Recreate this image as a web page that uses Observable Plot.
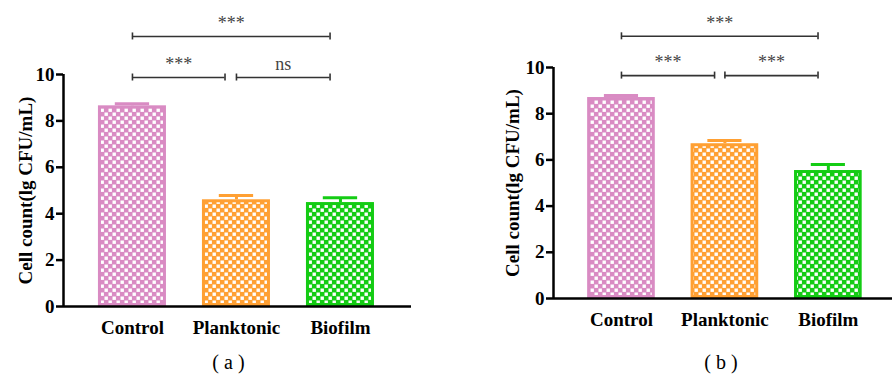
<!DOCTYPE html>
<html>
<head>
<meta charset="utf-8">
<script src="https://cdn.jsdelivr.net/npm/d3@7"></script>
<script src="https://cdn.jsdelivr.net/npm/@observablehq/plot@0.6"></script>
<style>
  body { margin: 0; font-size: 20px; font-family: "Liberation Serif"; }
  .pn { float: left; width: 446px; height: 380px; }
  .t2 text { font-family: "Liberation Serif" !important; }
</style>
</head>
<body>
<svg id="defs" width="0" height="0" style="position:absolute"></svg>
<div id="pa" class="pn t2"></div>
<div id="pb" class="pn t2"></div>
<script>
// ---- data ----
const categories = ["Control", "Planktonic", "Biofilm"];
const colors = ["#d98bc3", "#ffa033", "#14cc14"];
const yTicks = [0, 2, 4, 6, 8, 10];
const yLabel = "Cell count(lg CFU/mL)";

// panel (a)
const meanA = [8.65, 4.60, 4.48];
const errA = [0.09, 0.18, 0.21];
const bracketA_from = [0, 1, 0];
const bracketA_to = [0.89, 1.9, 1.9];
const bracketA_y = [9.87, 9.87, 11.64];
const bracketA_label = ["***", "ns", "***"];

// panel (b)
const meanB = [8.70, 6.70, 5.54];
const errB = [0.09, 0.14, 0.26];
const bracketB_from = [0, 1, 0];
const bracketB_to = [0.9, 1.9, 1.9];
const bracketB_y = [9.65, 9.65, 11.35];
const bracketB_label = ["***", "***", "***"];

const barHalf = 0.327;
const capHalf = 0.165;
const FONT = "Liberation Serif";

// checkerboard patterns (shared defs)
(function () {
  const defs = d3.select("#defs").append("defs");
  colors.forEach((c, i) => {
    const p = defs.append("pattern").attr("id", "pat" + i)
      .attr("patternUnits", "userSpaceOnUse").attr("width", 8).attr("height", 8);
    p.append("rect").attr("width", 8).attr("height", 8).attr("fill", c);
    [[0, 0], [4, 4]].forEach(([x, y]) =>
      p.append("rect").attr("x", x + 0.5).attr("y", y + 0.5).attr("width", 3.4).attr("height", 3.4).attr("fill", "white"));
  });
})();

function panel(opts) {
  const {mean, err, bFrom, bTo, bY, bLabel, caption, xDomain, marginLeft, marginRight, marginTop, marginBottom, labelDx, captionDx} = opts;
  const bars = categories.map((c, i) => ({i, name: c, v: mean[i], top: mean[i] + err[i], color: colors[i]}));
  const brackets = bFrom.map((f, k) => ({x1: f, x2: bTo[k], y: bY[k], label: bLabel[k], mid: (f + bTo[k]) / 2}));
  const ends = brackets.flatMap(b => [{x: b.x1, y: b.y}, {x: b.x2, y: b.y}]);
  return Plot.plot({
    width: 446, height: 380, marginLeft, marginRight, marginTop, marginBottom,
    style: {fontFamily: FONT},
    x: {type: "linear", domain: xDomain, axis: null},
    y: {domain: [0, 10], axis: null},
    marks: [
      Plot.rectY(bars, {x1: d => d.i - barHalf, x2: d => d.i + barHalf, y1: 0, y2: "v", fill: d => `url(#pat${d.i})`, stroke: "color", strokeWidth: 3, inset: 1.5}),
      Plot.ruleX(bars, {x: "i", y1: "v", y2: "top", stroke: "color", strokeWidth: 3}),
      Plot.ruleY(bars, {y: "top", x1: d => d.i - capHalf, x2: d => d.i + capHalf, stroke: "color", strokeWidth: 3}),
      Plot.ruleX([xDomain[0]], {y1: 0, y2: 10, stroke: "black", strokeWidth: 2.5}),
      Plot.ruleY([0], {x1: xDomain[0], x2: xDomain[1], stroke: "black", strokeWidth: 2.5}),
      Plot.axisY({ticks: yTicks, tickSize: 7, tickPadding: 2, strokeWidth: 2.5, label: null, fontSize: 19, fontWeight: "bold", fontFamily: FONT}),
      Plot.axisX({ticks: [0, 1, 2], tickFormat: i => categories[i], tickSize: 0, tickPadding: 14, label: null, fontSize: 19, fontWeight: "bold", fontFamily: FONT}),
      Plot.text([yLabel], {frameAnchor: "left", textAnchor: "middle", rotate: -90, dx: labelDx, fontSize: 19, fontWeight: "bold", fontFamily: FONT}),
      Plot.ruleY(brackets, {y: "y", x1: "x1", x2: "x2", stroke: "#333", strokeWidth: 1.6}),
      Plot.ruleX(ends, {x: "x", y1: "y", y2: "y", insetTop: -3.5, insetBottom: -3.5, stroke: "#333", strokeWidth: 1.6}),
      Plot.text(brackets, {x: "mid", y: "y", text: "label", dy: -13, fill: "#444", fontSize: 18, fontFamily: FONT}),
      Plot.text([caption], {x: [1], frameAnchor: "bottom", dy: marginBottom - 12, dx: captionDx, fontSize: 20, fontFamily: FONT})
    ]
  });
}

document.getElementById("pa").appendChild(panel({
  mean: meanA, err: errA, bFrom: bracketA_from, bTo: bracketA_to, bY: bracketA_y, bLabel: bracketA_label,
  caption: "( a )", xDomain: [-0.663, 2.683], marginLeft: 63, marginRight: 35,
  marginTop: 74, marginBottom: 74, labelDx: -38, captionDx: -8
}));
document.getElementById("pb").appendChild(panel({
  mean: meanB, err: errB, bFrom: bracketB_from, bTo: bracketB_to, bY: bracketB_y, bLabel: bracketB_label,
  caption: "( b )", xDomain: [-0.657, 2.62], marginLeft: 107, marginRight: 0,
  marginTop: 67, marginBottom: 82, labelDx: -41, captionDx: -4
}));
</script>
</body>
</html>
